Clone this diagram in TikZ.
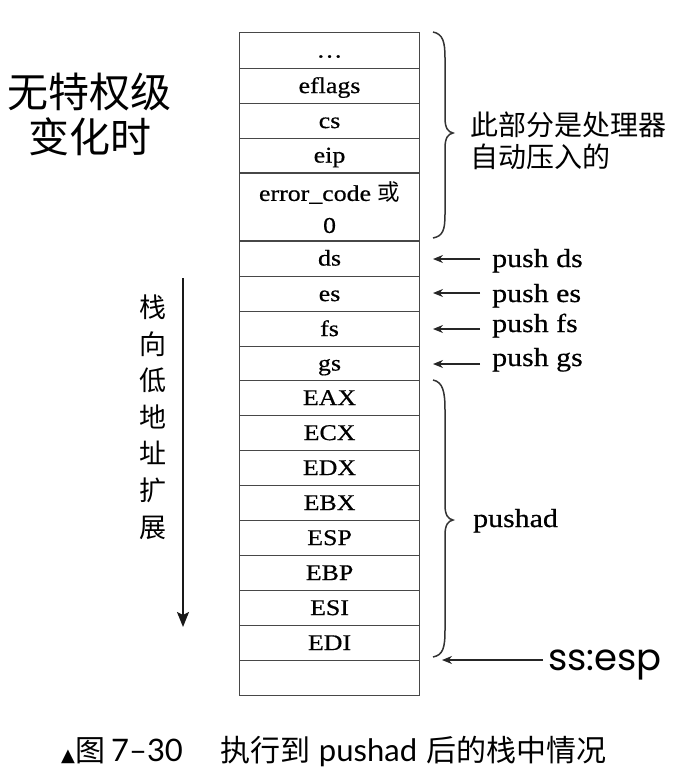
\documentclass[tikz,border=0pt]{standalone}
\usepackage{fontspec}
\usetikzlibrary{arrows.meta}
\newfontfamily\stk[FakeStretch=1.15,FakeBold=0.6]{Liberation Serif}
\newfontfamily\cjk{Noto Sans CJK SC}
\newfontfamily\geo{Poppins}
\newfontfamily\lat{Lato}
\newfontfamily\dvs{DejaVu Sans}
\begin{document}
\begin{tikzpicture}[x=1pt,y=-1pt,
  cell/.style={draw=black!72, line width=1.1pt, minimum width=180pt, inner sep=0pt,
    anchor=north west, font=\stk\fontsize{22.5}{27}\selectfont, text height=17pt, text depth=3pt},
  lbl/.style={anchor=base west, inner sep=0pt, font=\stk\fontsize{26}{30}\selectfont},
  parr/.style={-{Stealth[length=10pt,width=8pt]}, line width=1.3pt, black!85},
  bracestyle/.style={line width=1.5pt, black!80},
]
\useasboundingbox (0,0) rectangle (686,782);

% stack cells
\node[cell, minimum height=36pt] (c0) at (239,32) {\ldots};
\node[cell, minimum height=35pt] (c1) at (239,68) {eflags};
\node[cell, minimum height=35pt] (c2) at (239,103) {cs};
\node[cell, minimum height=34pt] (c3) at (239,138) {eip};
\node[draw=black!72, line width=1.1pt, minimum width=180pt, minimum height=68pt, inner sep=0pt,
  anchor=north west, align=center, font=\stk\fontsize{22.5}{32}\selectfont] (err) at (239,173)
  {error\_code {\cjk 或}\\0};
\node[cell, minimum height=36pt] (ds) at (239,240) {ds};
\node[cell, minimum height=35pt] (es) at (239,276) {es};
\node[cell, minimum height=35pt] (fs) at (239,311) {fs};
\node[cell, minimum height=34pt] (gs) at (239,346) {gs};
\foreach \t [count=\i from 0] in {EAX,ECX,EDX,EBX,ESP,EBP,ESI,EDI,{}}
  \node[cell, minimum height=35pt] (r\i) at (239,380+35*\i) {\t};

% title
\node[align=center, inner sep=0pt, font=\cjk\fontsize{41}{45}\selectfont] (title) at (90,114.5)
  {无特权级\\变化时};

% vertical arrow and text
\coordinate (vs) at (183,278);
\coordinate (ve) at (183,627);
\draw[-{Stealth[length=15pt,width=12pt,inset=3pt]}, line width=1.6pt, black!90] (vs) -- (ve);
\node[align=center, inner sep=0pt, font=\cjk\fontsize{27}{36.6}\selectfont] (vt) at (153,417)
  {栈\\向\\低\\地\\址\\扩\\展};

% brace 1
\draw[bracestyle] (433,32) .. controls (443,34) and (445,42) .. (445,58) -- (445,118)
  .. controls (445,128) and (448,132) .. (453,133)
  .. controls (448,134) and (445,138) .. (445,148) -- (445,214)
  .. controls (445,230) and (443,236) .. (433,238);
\node[anchor=west, align=left, inner sep=0pt, font=\cjk\fontsize{28}{32}\selectfont] (bt1) at (470,141)
  {此部分是处理器\\自动压入的};

% push arrows
\coordinate (p1s) at (480,259); \coordinate (p1e) at (433,259);
\coordinate (p2s) at (480,293); \coordinate (p2e) at (433,293);
\coordinate (p3s) at (480,329); \coordinate (p3e) at (433,329);
\coordinate (p4s) at (480,364); \coordinate (p4e) at (433,364);
\draw[parr] (p1s) -- (p1e);
\draw[parr] (p2s) -- (p2e);
\draw[parr] (p3s) -- (p3e);
\draw[parr] (p4s) -- (p4e);
\node[lbl] (l1) at (492,267) {push ds};
\node[lbl] (l2) at (492,302) {push es};
\node[lbl] (l3) at (492,332) {push fs};
\node[lbl] (l4) at (492,366) {push gs};

% brace 2
\draw[bracestyle] (433,380) .. controls (443,382) and (445,392) .. (445,410) -- (445,505)
  .. controls (445,515) and (448,519) .. (453,520)
  .. controls (448,521) and (445,525) .. (445,535) -- (445,630)
  .. controls (445,648) and (443,655) .. (433,657);
\node[lbl] (l5) at (473,527) {pushad};

% ss:esp
\coordinate (ss) at (543,660); \coordinate (se) at (442,660);
\draw[parr] (ss) -- (se);
\node[anchor=base west, inner sep=0pt, font=\geo\fontsize{37}{40}\selectfont] (sslbl) at (548,670) {ss:esp};

% caption
\node[anchor=base west, inner sep=0pt] (cap) at (61,761)
  {{\dvs\fontsize{18}{20}\selectfont ▲}{\cjk\fontsize{30}{34}\selectfont 图}\hspace{6pt}%
   {\lat\fontsize{31}{34}\selectfont 7–30}\hspace{38pt}%
   {\cjk\fontsize{30}{34}\selectfont 执行到}\hspace{8pt}%
   {\lat\fontsize{31}{34}\selectfont pushad}\hspace{9pt}%
   {\cjk\fontsize{30}{34}\selectfont 后的栈中情况}};
\end{tikzpicture}
\end{document}
